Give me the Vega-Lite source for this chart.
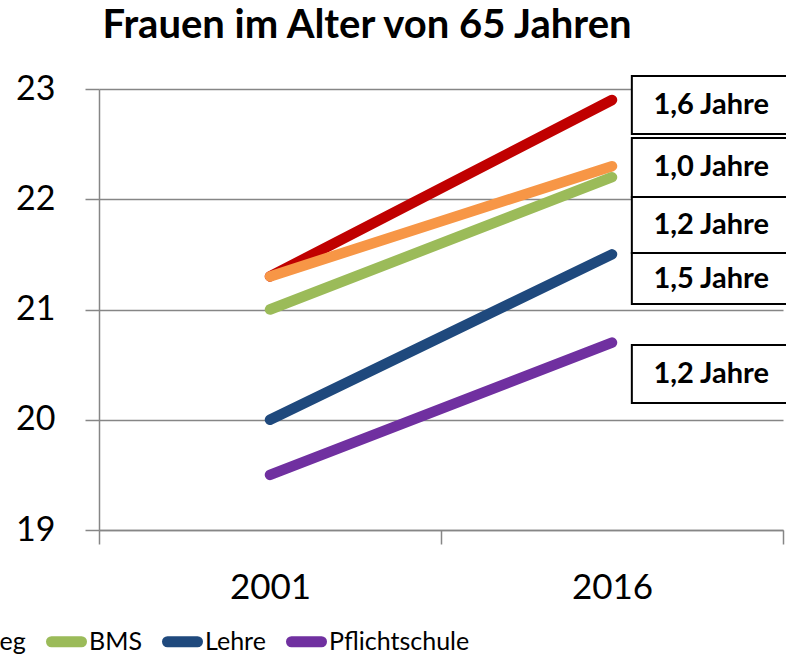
{
  "$schema": "https://vega.github.io/schema/vega-lite/v6.json",
  "width": 684,
  "height": 441,
  "autosize": {"type": "none"},
  "padding": {"left": 99, "top": 89, "right": 3, "bottom": 127},
  "background": "white",
  "config": {"font": "Lato", "view": {"stroke": null}},
  "title": {"text": "Frauen im Alter von 65 Jahren", "fontSize": 40, "fontWeight": "bold", "font": "Lato", "color": "black", "anchor": "middle", "dx": -74, "offset": 26},
  "datasets": {
    "linien": [
      {"Bildung": "Hochschule", "Jahr": "2001", "Wert": 21.3},
      {"Bildung": "Hochschule", "Jahr": "2016", "Wert": 22.9},
      {"Bildung": "AHS/BHS/Kolleg", "Jahr": "2001", "Wert": 21.3},
      {"Bildung": "AHS/BHS/Kolleg", "Jahr": "2016", "Wert": 22.3},
      {"Bildung": "BMS", "Jahr": "2001", "Wert": 21.0},
      {"Bildung": "BMS", "Jahr": "2016", "Wert": 22.2},
      {"Bildung": "Lehre", "Jahr": "2001", "Wert": 20.0},
      {"Bildung": "Lehre", "Jahr": "2016", "Wert": 21.5},
      {"Bildung": "Pflichtschule", "Jahr": "2001", "Wert": 19.5},
      {"Bildung": "Pflichtschule", "Jahr": "2016", "Wert": 20.7}
    ],
    "kaesten": [
      {"Text": "1,6 Jahre", "oben": 23.118, "unten": 22.592, "mitte": 22.855},
      {"Text": "1,0 Jahre", "oben": 22.556, "unten": 22.02, "mitte": 22.29},
      {"Text": "1,2 Jahre", "oben": 22.02, "unten": 21.512, "mitte": 21.766},
      {"Text": "1,5 Jahre", "oben": 21.512, "unten": 21.05, "mitte": 21.28},
      {"Text": "1,2 Jahre", "oben": 20.678, "unten": 20.152, "mitte": 20.415}
    ]
  },
  "layer": [
    {
      "data": {"name": "linien"},
      "mark": {"type": "line", "strokeWidth": 10.5, "strokeCap": "round"},
      "encoding": {
        "x": {
          "field": "Jahr", "type": "ordinal",
          "scale": {"type": "band", "paddingInner": 0, "paddingOuter": 0},
          "axis": {"title": null, "labelAngle": 0, "labelFontSize": 35, "labelColor": "black", "labelPadding": 26, "tickBand": "extent", "tickSize": 14, "tickColor": "#868686", "tickWidth": 1.5, "domainColor": "#868686", "domainWidth": 1.5, "grid": false}
        },
        "y": {
          "field": "Wert", "type": "quantitative",
          "scale": {"domain": [19, 23], "nice": false, "zero": false},
          "axis": {"title": null, "values": [19, 20, 21, 22, 23], "format": "d", "labelFontSize": 34, "labelColor": "black", "labelPadding": 30, "tickSize": 14, "tickColor": "#868686", "tickWidth": 1.5, "domainColor": "#868686", "domainWidth": 1.5, "grid": true, "gridColor": "#868686", "gridWidth": 1.5}
        },
        "color": {
          "field": "Bildung", "type": "nominal",
          "scale": {"domain": ["Hochschule", "AHS/BHS/Kolleg", "BMS", "Lehre", "Pflichtschule"], "range": ["#C00000", "#F79646", "#9BBB59", "#1F497D", "#7030A0"]},
          "legend": {
            "title": null, "orient": "none", "direction": "horizontal", "legendX": -497, "legendY": 532,
            "symbolType": "stroke", "symbolStrokeWidth": 11, "symbolSize": 900, "labelFontSize": 25, "labelColor": "black", "labelLimit": 0,
            "labelOffset": 2, "columnPadding": 3, "padding": 0,
            "encode": {"symbols": {"update": {"strokeCap": {"value": "round"}}}}
          }
        }
      }
    },
    {
      "data": {"name": "kaesten"},
      "mark": {"type": "rect", "fill": "white", "stroke": "black", "strokeWidth": 2},
      "encoding": {
        "x": {"datum": 0.779, "type": "quantitative", "scale": {"domain": [0, 1], "nice": false, "zero": false}, "axis": null},
        "x2": {"datum": 1.03},
        "y": {"field": "oben", "type": "quantitative", "scale": {"domain": [19, 23], "nice": false, "zero": false}},
        "y2": {"field": "unten"}
      }
    },
    {
      "data": {"name": "kaesten"},
      "mark": {"type": "text", "fontSize": 29, "fontWeight": "bold", "color": "black", "align": "center", "baseline": "middle"},
      "encoding": {
        "x": {"datum": 0.895, "type": "quantitative", "scale": {"domain": [0, 1], "nice": false, "zero": false}, "axis": null},
        "y": {"field": "mitte", "type": "quantitative", "scale": {"domain": [19, 23], "nice": false, "zero": false}},
        "text": {"field": "Text"}
      }
    }
  ],
  "resolve": {"scale": {"x": "independent"}}
}
